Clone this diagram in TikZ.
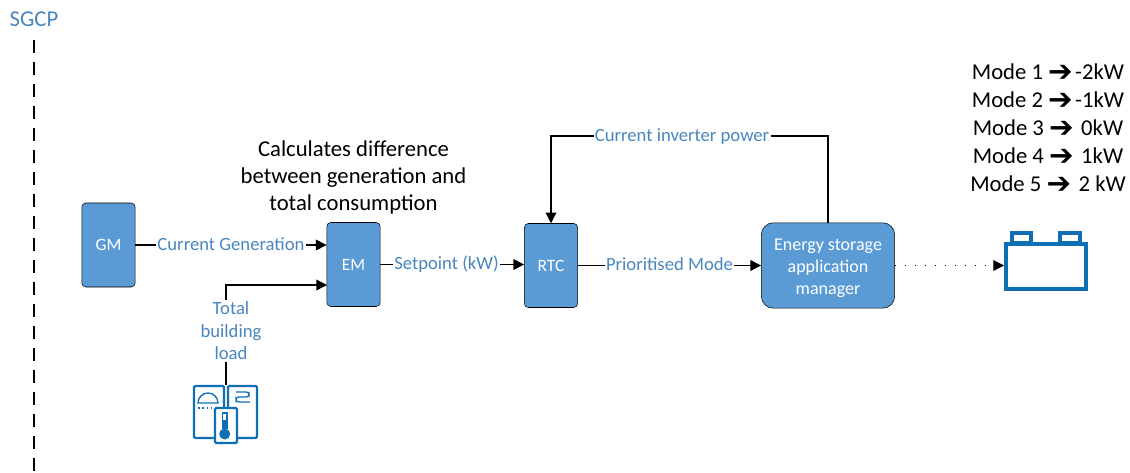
\documentclass[tikz,border=0pt]{standalone}
\usepackage{fontspec}
\setmainfont{Carlito}
\newfontfamily\arrowfont{DejaVu Sans}
\usetikzlibrary{arrows.meta, positioning}
\definecolor{boxblue}{HTML}{5B9BD5}
\definecolor{iconblue}{HTML}{0F6FB5}
\definecolor{textblue}{HTML}{4A86BE}
\newcommand{\modearrow}{\smash{\raisebox{-1.5pt}{\fontsize{22}{22}\selectfont\arrowfont\bfseries\char"2794}}\hspace*{-2pt}}
\tikzset{
    block/.style={draw=black, fill=boxblue, rounded corners=3pt, text=white, font=\fontsize{13}{16.5}\selectfont, minimum width=40pt, minimum height=63pt, inner sep=1pt, align=center},
    flow/.style={-{Triangle[length=8pt, width=8pt]}, line width=1pt},
    flowtext/.style={fill=white, text=textblue, inner sep=1pt, font=\fontsize{14}{16.9}\selectfont},
    flowlabel/.style={flowtext, text height=10pt, text depth=2pt},
    note/.style={align=center, text=black, font=\fontsize{17}{20.25}\selectfont},
    icon/.style={draw=iconblue, line width=1.7pt},
    batteryline/.style={draw=iconblue, line width=2.6pt, fill=white}
}

\begin{document}
\begin{tikzpicture}[x=0.75pt, y=-0.75pt]
    \useasboundingbox (0,0) rectangle (1130,472);
    % Boundary
    \node[text=textblue, font=\fontsize{17}{20}\selectfont] (sgcp) at (34,19) {SGCP};
    \coordinate (sgcptop) at (34,40);
    \coordinate (sgcpend) at (34,472);
    \draw[line width=1.2pt, dash pattern=on 9.75pt off 6.75pt] (sgcptop) -- (sgcpend);
    % Blocks
    \node[block] (gm) at (108.5,245) {GM};
    \node[block] (em) at (353.5,264.5) {EM};
    \node[block] (rtc) at (551,265.5) {RTC};
    \node[block, rounded corners=9pt, minimum width=100pt, minimum height=64pt, font=\fontsize{13.5}{16.5}\selectfont] (esam) at (828,265.5) {\rule{0pt}{13.5pt}Energy storage\\application\\manager};
    % Notes
    \node[note] (calcnote) at (353.5,177) {Calculates difference\\between generation and\\total consumption};
    \node[note, font=\fontsize{17}{21}\selectfont] (modes) at (1048,127.5) {Mode 1 \modearrow{} -2kW\\Mode 2 \modearrow{} -1kW\\Mode 3 \modearrow{} \ 0kW\\Mode 4 \modearrow{} \ 1kW\\Mode 5 \modearrow{} \ 2 kW};
    % Building load icon
    \draw[icon, rounded corners=1pt] (194,386) rectangle (224,438);
    \draw[icon, rounded corners=1pt] (228,386) rectangle (257,438);
    \draw[icon, fill=white, rounded corners=1pt] (215,408) rectangle (237,443);
    \draw[draw=iconblue, line width=1pt] (198,403) arc (180:360:10) -- cycle;
    \draw[draw=iconblue, line width=1.2pt, dotted] (198,408) -- (213,408);
    \draw[draw=iconblue, line width=1pt, rounded corners=2pt] (236,392) -- (249,392) -- (249,397) -- (236,397) -- (236,402) -- (250,402);
    \draw[draw=iconblue, line width=1pt] (222.5,413) rectangle (227,428);
    \fill[iconblue] (224.7,434) circle (5.5);
    \fill[iconblue] (223.2,420) rectangle (226.2,430);
    \coordinate (building) at (226,385);
    % Battery
    \draw[batteryline] (1012,233) rectangle (1031,243);
    \draw[batteryline] (1060,233) rectangle (1080,243);
    \draw[batteryline] (1006,244) rectangle (1086,289);
    \coordinate (battery) at (1004,265.5);
    % Connectors
    \draw[flow] (gm) -- node[flowlabel] {Current Generation} (em.west |- gm);
    \draw[flow] (em) -- node[flowlabel, pos=0.46] {Setpoint (kW)} (rtc.west |- em);
    \draw[flow] (rtc) -- node[flowlabel] {Prioritised Mode} (esam);
    \draw[flow] (esam.north) -- ++(0,-86.5) -- node[flowlabel, pos=0.527] {Current inverter power} ++(-277,0) -- (rtc.north);
    \draw[-{Triangle[length=8pt, width=8pt]}, line width=0.8pt, dash pattern=on 0.8pt off 6.7pt] (esam.east |- battery) -- (battery);
    % Building load
    \node[flowtext, align=center] (load) at (231,331) {Total\\building\\load};
    \coordinate (emload) at (327,285);
    \draw[flow] (load.north -| building) |- (emload);
    \draw[line width=1pt] (building) -- (load.south -| building);
\end{tikzpicture}
\end{document}
